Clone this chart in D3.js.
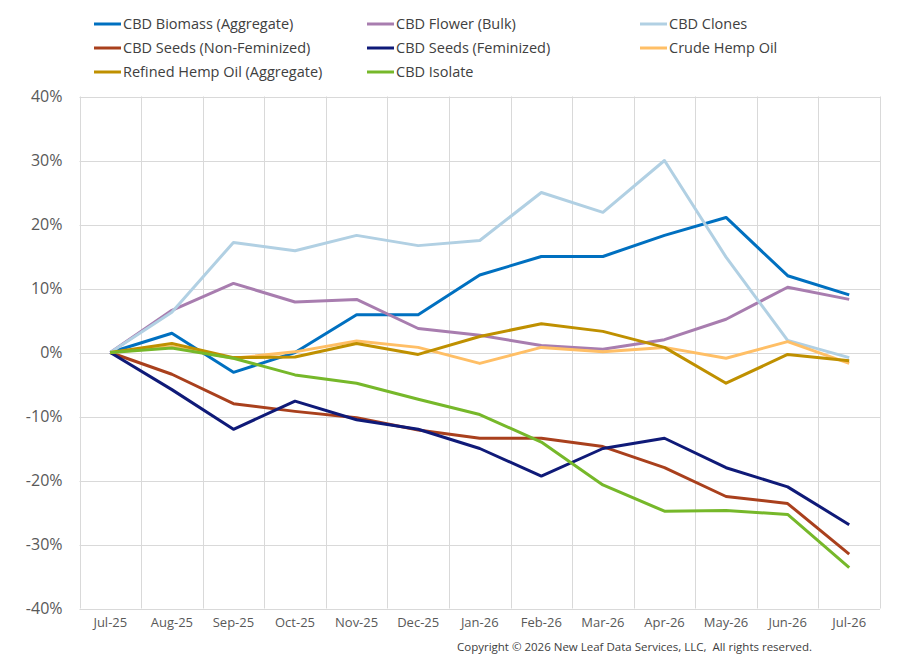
<!DOCTYPE html>
<html>
<head>
<meta charset="utf-8">
<script src="https://cdn.jsdelivr.net/npm/d3@7"></script>
<style>
  body { margin: 0; background: #fff; }
  svg { display: block; font-family: "Open Sans", sans-serif; }
</style>
</head>
<body>
<div id="chart"></div>
<script>
// months on the x axis
var months = ["Jul-25", "Aug-25", "Sep-25", "Oct-25", "Nov-25", "Dec-25", "Jan-26",
              "Feb-26", "Mar-26", "Apr-26", "May-26", "Jun-26", "Jul-26"];
var yTicks = [-40, -30, -20, -10, 0, 10, 20, 30, 40];

// % change since Jul-25
var biomass    = [0, 3.0, -3.1, 0.0, 5.9, 5.9, 12.1, 15.0, 15.0, 18.3, 21.1, 12.0, 9.0];
var flower     = [0, 6.6, 10.8, 7.9, 8.3, 3.75, 2.7, 1.1, 0.5, 2.0, 5.2, 10.2, 8.3];
var clones     = [0, 6.3, 17.2, 15.9, 18.3, 16.7, 17.5, 25.0, 21.9, 30.0, 14.9, 1.9, -0.8];
var seedsNonFem = [0, -3.4, -8.0, -9.2, -10.2, -12.1, -13.4, -13.4, -14.7, -18.0, -22.5, -23.6, -31.5];
var seedsFem   = [0, -5.8, -12.0, -7.6, -10.5, -12.0, -15.0, -19.3, -15.0, -13.4, -18.0, -21.0, -26.9];
var crudeOil   = [0, 0.9, -0.9, 0.1, 1.8, 0.8, -1.7, 0.8, 0.1, 0.8, -0.9, 1.7, -1.7];
var refinedOil = [0, 1.4, -0.8, -0.7, 1.4, -0.3, 2.5, 4.5, 3.3, 0.8, -4.8, -0.3, -1.3];
var isolate    = [0, 0.7, -0.9, -3.5, -4.8, -7.3, -9.7, -14.0, -20.7, -24.8, -24.7, -25.3, -33.6];

var seriesNames = ["CBD Biomass (Aggregate)", "CBD Flower (Bulk)", "CBD Clones",
                   "CBD Seeds (Non-Feminized)", "CBD Seeds (Feminized)", "Crude Hemp Oil",
                   "Refined Hemp Oil (Aggregate)", "CBD Isolate"];
var seriesValues = [biomass, flower, clones, seedsNonFem, seedsFem, crudeOil, refinedOil, isolate];
var seriesColors = ["#0070C0", "#A87DAF", "#B1D0E3", "#A9401D", "#0F1A78", "#FFBF66", "#BF9000", "#76B82A"];

var W = 910, H = 661;
var plot = {left: 79.5, right: 880, top: 96.5, bottom: 608.5};

var svg = d3.select("#chart").append("svg")
    .attr("width", W)
    .attr("height", H);

var x = d3.scaleBand().domain(months).range([plot.left, plot.right]).padding(0);
var y = d3.scaleLinear().domain([-40, 40]).range([plot.bottom, plot.top]);
var xc = function(m) { return x(m) + x.bandwidth() / 2; };

// horizontal gridlines
svg.append("g")
    .selectAll("line")
    .data(yTicks)
    .join("line")
    .attr("x1", plot.left).attr("x2", plot.right)
    .attr("y1", function(d) { return Math.round(y(d)) + 0.5; })
    .attr("y2", function(d) { return Math.round(y(d)) + 0.5; })
    .attr("stroke", "#D9D9D9")
    .attr("stroke-width", 1);

// vertical gridlines on category boundaries (and the frame)
var bounds = months.map(function(m) { return x(m); }).concat([plot.right]);
svg.append("g")
    .selectAll("line")
    .data(bounds)
    .join("line")
    .attr("x1", function(d) { return Math.round(d) + 0.5; })
    .attr("x2", function(d) { return Math.round(d) + 0.5; })
    .attr("y1", plot.top).attr("y2", plot.bottom)
    .attr("stroke", "#D9D9D9")
    .attr("stroke-width", 1);

// y axis labels
var yAxis = svg.append("g")
    .attr("transform", "translate(" + plot.left + ",0)")
    .call(d3.axisLeft(y).tickValues(yTicks).tickSize(0).tickPadding(17)
        .tickFormat(function(d) { return d + "%"; }));
yAxis.select(".domain").remove();
yAxis.selectAll("text")
    .attr("fill", "#595959")
    .style("font-size", "16px")
    .style("font-family", "'Open Sans', sans-serif");

// x axis labels
var xAxis = svg.append("g")
    .attr("transform", "translate(0," + plot.bottom + ")")
    .call(d3.axisBottom(x).tickSize(0).tickPadding(9));
xAxis.select(".domain").remove();
xAxis.selectAll("text")
    .attr("fill", "#595959")
    .style("font-size", "13px")
    .style("font-family", "'Open Sans', sans-serif");

// lines
var line = d3.line()
    .x(function(d, i) { return xc(months[i]); })
    .y(function(d) { return y(d); });

svg.append("g")
    .selectAll("path")
    .data(seriesValues)
    .join("path")
    .attr("fill", "none")
    .attr("stroke", function(d, i) { return seriesColors[i]; })
    .attr("stroke-width", 3)
    .attr("stroke-linejoin", "round")
    .attr("d", line);

// legend
var legCols = [94, 367, 640];
var legRows = [24, 48, 72];
var leg = svg.append("g")
    .selectAll("g")
    .data(seriesNames)
    .join("g")
    .attr("transform", function(d, i) {
        return "translate(" + legCols[i % 3] + "," + legRows[Math.floor(i / 3)] + ")";
    });
leg.append("line")
    .attr("x1", 0).attr("x2", 27)
    .attr("stroke", function(d, i) { return seriesColors[i]; })
    .attr("stroke-width", 3);
leg.append("text")
    .attr("x", 29)
    .attr("dy", "0.35em")
    .attr("fill", "#404040")
    .style("font-size", "14.5px")
    .text(function(d) { return d; });

// copyright
svg.append("text")
    .attr("x", 812)
    .attr("y", 651)
    .attr("text-anchor", "end")
    .attr("fill", "#404040")
    .style("font-size", "11.5px")
    .style("white-space", "pre")
    .text("Copyright \u00A9 2026 New Leaf Data Services, LLC,  All rights reserved.");
</script>
</body>
</html>
